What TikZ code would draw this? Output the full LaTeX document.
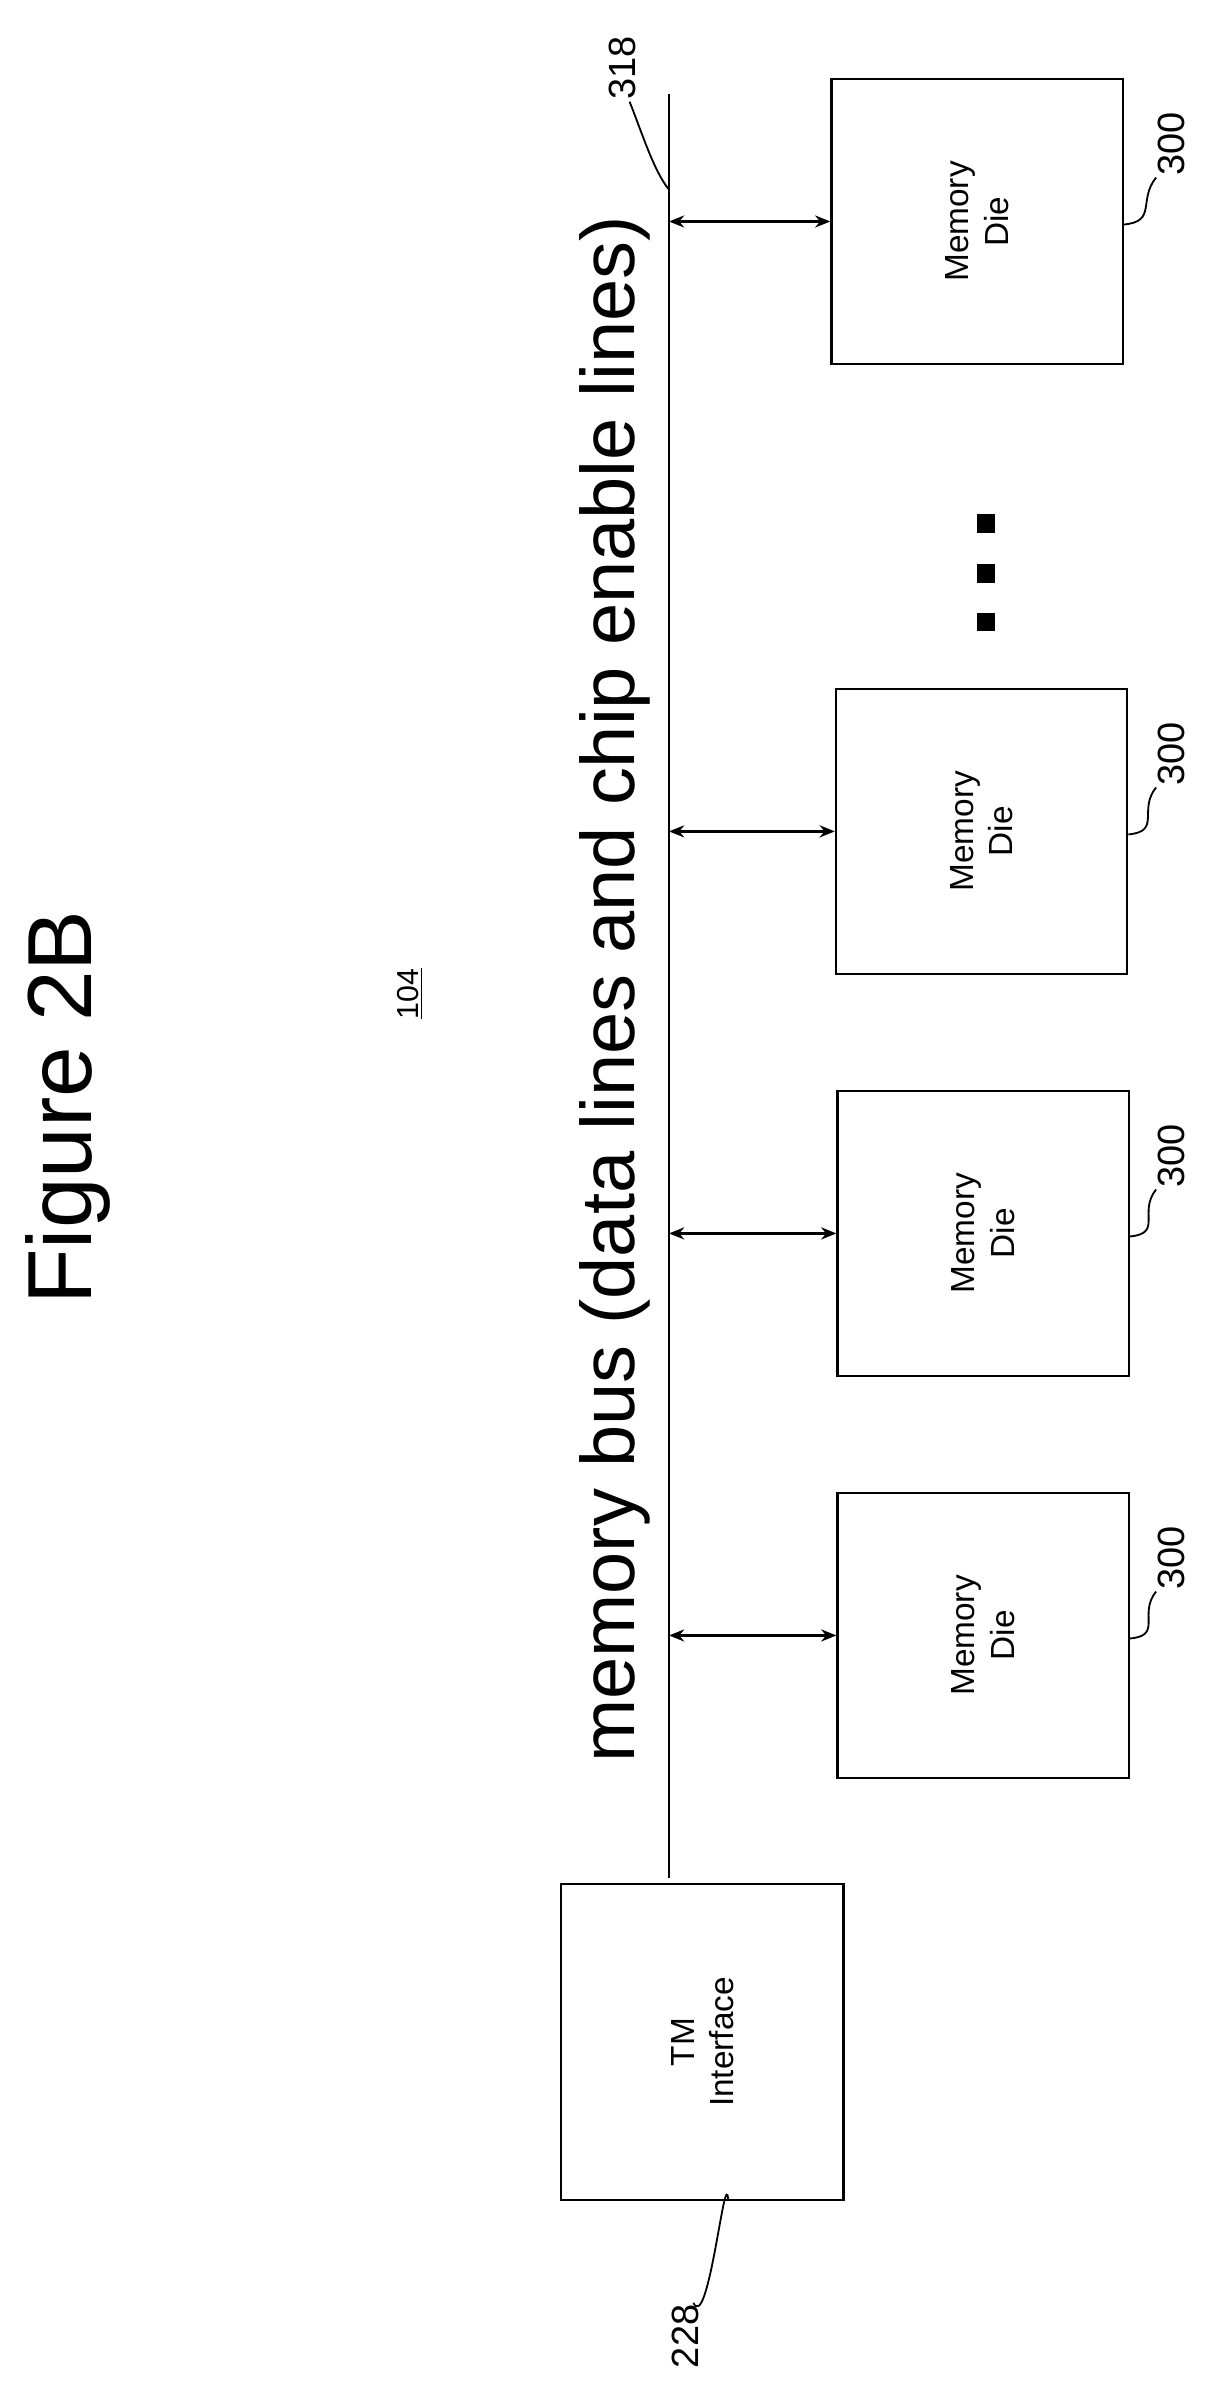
\documentclass[tikz,border=0pt]{standalone}
\usepackage{fontspec}
\setmainfont{Liberation Sans}
\usetikzlibrary{arrows.meta}
\begin{document}
\begin{tikzpicture}[x=1pt,y=1pt,
  lbl/.style={rotate=90,font=\fontsize{22}{26}\selectfont,align=center},
  num/.style={rotate=90,font=\fontsize{25}{26}\selectfont,inner sep=1pt},
  dbl/.style={{Stealth[length=10pt,width=8pt]}-{Stealth[length=10pt,width=8pt]},line width=1.5pt},
  lead/.style={line width=1.2pt}]
\useasboundingbox (0,0) rectangle (800,-1578);
\node[rotate=90,font=\fontsize{60}{60}\selectfont] (fig) at (45,-730) {Figure 2B};
\node[rotate=90,font=\fontsize{20}{22}\selectfont] (ref) at (270,-655) {\underline{104}};
\node[rotate=90,font=\fontsize{50}{52}\selectfont] (bustext) at (405,-652) {memory bus (data lines and chip enable lines)};
\coordinate (bt) at (441,-62);
\coordinate (bb) at (441,-1238);
\draw[line width=1.5pt] (bt) -- (bb);
\node[draw,line width=1.5pt,minimum width=186pt,minimum height=208pt,inner sep=0pt] (tm) at (463,-1346) {};
\node[lbl] at (tm) {TM\\Interface};
\foreach \i/\x/\y in {1/644/146,2/647/548,3/648/813,4/648/1078}{
  \node[draw,line width=1.5pt,minimum width=192pt,minimum height=188pt,inner sep=0pt] (d\i) at (\x,-\y) {};
  \node[lbl] at (d\i) {Memory\\Die};
  \coordinate (b\i) at (441,-\y);
  \draw[dbl] (b\i) -- (d\i.west);
  \node[num] (n\i) at (772,-\y+51) {300};
  \draw[lead] ([yshift=-2pt]d\i.east) .. controls +(22,2) and +(-12,-15) .. ([xshift=-10pt]n\i.west);
}
\foreach \y in {345,378,410}{\fill (644,-\y-6) rectangle (656,-\y+6);}
\node[num] (n318) at (410,-45) {318};
\coordinate (c318) at (441,-125);
\draw[lead] (c318) .. controls +(-10,12) and +(8,-20) .. ([xshift=5pt]n318.west);
\node[num] (n228) at (452,-1540) {228};
\coordinate (c228) at (480,-1450);
\draw[lead] (c228) .. controls +(-2,25) and +(10,-20) .. ([xshift=5pt]n228.east);
\end{tikzpicture}
\end{document}
